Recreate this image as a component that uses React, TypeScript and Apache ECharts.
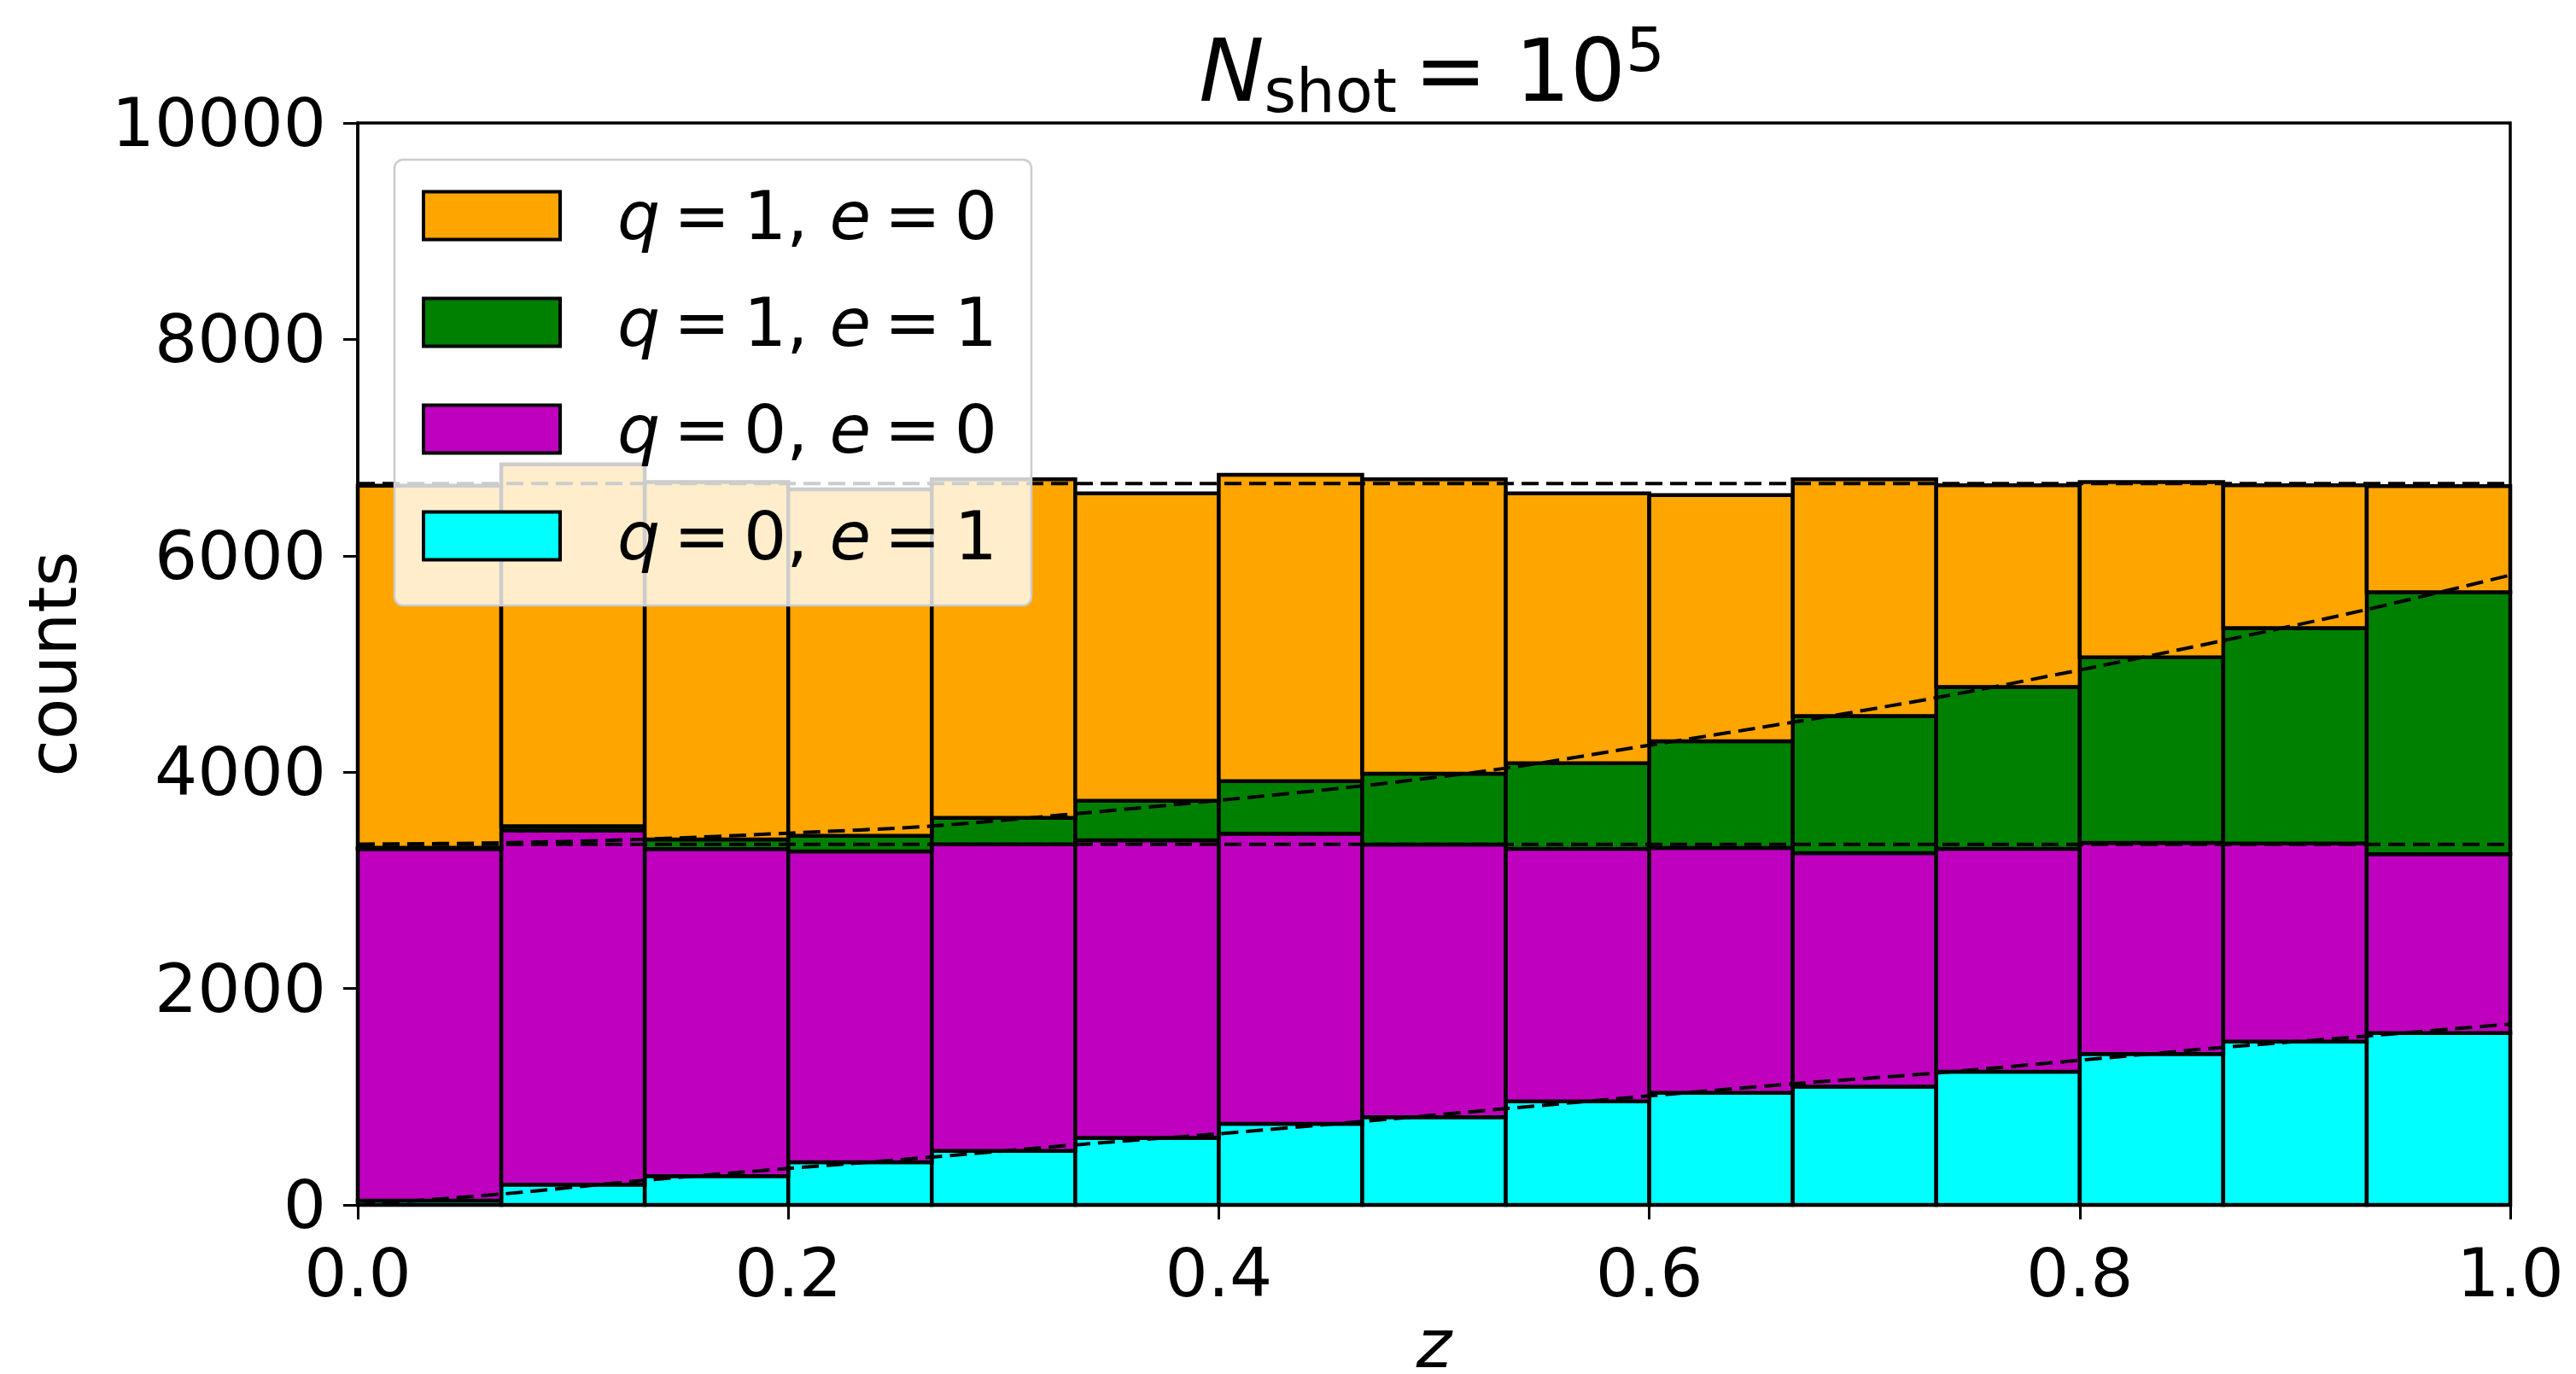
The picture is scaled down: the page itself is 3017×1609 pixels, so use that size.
import React, { useEffect, useRef } from "react";
import * as echarts from "echarts";

// ---- data ----
const binCount = 15;
const binEdges = Array.from({ length: binCount + 1 }, (_, i) => i / binCount);

// stacked from the bottom: q=0,e=1 (cyan), q=0,e=0 (magenta), q=1,e=1 (green), q=1,e=0 (orange)
const q0e1Counts = [40, 188, 266, 395, 500, 619, 750, 811, 956, 1035, 1093, 1232, 1396, 1509, 1588];
const q0e0Counts = [3250, 3272, 3024, 2873, 2832, 2751, 2681, 2520, 2335, 2264, 2159, 2059, 1951, 1831, 1653];
const q1e1Counts = [12, 40, 88, 144, 246, 366, 486, 655, 791, 986, 1266, 1496, 1715, 1991, 2422];
const q1e0Counts = [3346, 3345, 3304, 3203, 3128, 2840, 2832, 2720, 2494, 2276, 2188, 1865, 1620, 1321, 980];

// expected (dashed) curves, sampled at the bin edges
const q0e1Expected = [0, 100, 228, 337, 442, 555, 658, 771, 890, 1008, 1119, 1219, 1337, 1456, 1561, 1672];
const q1e1TopExpected = [3333, 3347, 3380, 3436, 3502, 3615, 3739, 3873, 4036, 4249, 4461, 4688, 4944, 5216, 5503, 5821];
const q0Expected = 3333;
const totalExpected = 6667;

const xTicks = [0, 0.2, 0.4, 0.6, 0.8, 1.0];
const yTicks = [0, 2000, 4000, 6000, 8000, 10000];

const seriesDefs = [
  { name: "q = 0, e = 1", counts: q0e1Counts, color: "#00FFFF" },
  { name: "q = 0, e = 0", counts: q0e0Counts, color: "#BF00BF" },
  { name: "q = 1, e = 1", counts: q1e1Counts, color: "#008000" },
  { name: "q = 1, e = 0", counts: q1e0Counts, color: "#FFA500" },
];
const legendOrder = ["q = 1, e = 0", "q = 1, e = 1", "q = 0, e = 0", "q = 0, e = 1"];

const FONT = "DejaVu Sans";
const FS = 79;
const THIN = "\u2009";

export default function App() {
  const ref = useRef<HTMLDivElement>(null);
  useEffect(() => {
    if (!ref.current) return;
    const chart = echarts.init(ref.current, undefined, { renderer: "svg" });

    const bottoms = new Array(binCount).fill(0);
    const barSeries = seriesDefs.map((def) => {
      const data = def.counts.map((c, i) => {
        const item = [binEdges[i], binEdges[i + 1], bottoms[i], bottoms[i] + c];
        bottoms[i] += c;
        return item;
      });
      return {
        type: "custom",
        name: def.name,
        itemStyle: { color: def.color, borderColor: "#000", borderWidth: 4 },
        encode: { x: [0, 1], y: [2, 3] },
        data,
        z: 2,
        renderItem: (params: any, api: any) => {
          const p0 = api.coord([api.value(0), api.value(3)]);
          const p1 = api.coord([api.value(1), api.value(2)]);
          return {
            type: "rect",
            shape: { x: p0[0], y: p0[1], width: p1[0] - p0[0], height: p1[1] - p0[1] },
            style: { fill: def.color, stroke: "#000", lineWidth: 4.5 },
          };
        },
      };
    });

    const dashStyle = { color: "#000", width: 4, type: [20, 9] as any };
    const lineSeries = [
      { data: binEdges.map((z, i) => [z, q0e1Expected[i]]), smooth: 0.3 },
      { data: binEdges.map((z, i) => [z, q1e1TopExpected[i]]), smooth: 0.3 },
      { data: [[0, q0Expected], [1, q0Expected]], smooth: false },
      { data: [[0, totalExpected], [1, totalExpected]], smooth: false },
    ].map((s) => ({
      type: "line",
      data: s.data,
      smooth: s.smooth,
      showSymbol: false,
      symbol: "none",
      lineStyle: dashStyle,
      z: 5,
      silent: true,
    }));

    chart.setOption({
      animation: false,
      backgroundColor: "#fff",
      textStyle: { fontFamily: FONT },
      grid: {
        left: 419,
        top: 144,
        right: 77,
        bottom: 198,
        outerBoundsMode: "none",
        containLabel: false,
        show: true,
        borderColor: "#000",
        borderWidth: 3.5,
        backgroundColor: "transparent",
      },
      xAxis: {
        type: "value",
        min: 0,
        max: 1,
        interval: 0.2,
        name: "z",
        nameLocation: "middle",
        nameGap: 117,
        nameTextStyle: { fontSize: FS, lineHeight: 60, fontStyle: "italic", fontFamily: FONT, color: "#000" },
        axisLine: { show: true, lineStyle: { color: "#000", width: 3.5 } },
        axisTick: { show: true, length: 17, lineStyle: { color: "#000", width: 3 } },
        axisLabel: {
          fontSize: FS,
          fontFamily: FONT,
          color: "#000",
          margin: 40,
          formatter: (v: number) => (xTicks.some((t) => Math.abs(t - v) < 1e-9) ? v.toFixed(1) : ""),
        },
        splitLine: { show: false },
      },
      yAxis: {
        type: "value",
        min: 0,
        max: 10000,
        interval: 2000,
        name: "counts",
        nameLocation: "middle",
        nameGap: 318,
        nameTextStyle: { fontSize: FS, fontFamily: FONT, color: "#000" },
        axisLine: { show: true, lineStyle: { color: "#000", width: 3.5 } },
        axisTick: { show: true, length: 17, lineStyle: { color: "#000", width: 3 } },
        axisLabel: {
          fontSize: FS,
          fontFamily: FONT,
          color: "#000",
          margin: 37,
          formatter: (v: number) => (yTicks.includes(v) ? String(v) : ""),
        },
        splitLine: { show: false },
      },
      legend: {
        data: legendOrder,
        orient: "vertical",
        left: 462,
        top: 187,
        icon: "rect",
        itemWidth: 160,
        itemHeight: 56,
        itemGap: 46,
        padding: [26, 40, 42, 32],
        backgroundColor: "rgba(255,255,255,0.8)",
        borderColor: "#cccccc",
        borderWidth: 2.5,
        borderRadius: 10,
        itemStyle: { borderColor: "#000", borderWidth: 4 },
        selectedMode: false,
        formatter: (name: string) =>
          name.replace(/ = /g, THIN + "=" + THIN).replace(/([qe])/g, "{i|$1}"),
        textStyle: {
          fontSize: FS,
          fontFamily: FONT,
          color: "#000",
          padding: [0, 0, 0, 62],
          rich: {
            i: { fontSize: FS, fontFamily: FONT, fontStyle: "italic", color: "#000" },
          },
        },
        z: 10,
      },
      graphic: [
        {
          type: "text",
          x: 1677,
          y: 82,
          z: 100,
          style: {
            text: "{n|N}{s|shot}{e|" + THIN + "= 10}{p|5}",
            align: "center",
            verticalAlign: "middle",
            fill: "#000",
            rich: {
              n: { fontSize: 102, fontFamily: FONT, fontStyle: "italic", lineHeight: 120, verticalAlign: "middle" },
              s: { fontSize: 72, fontFamily: FONT, lineHeight: 70, verticalAlign: "bottom" },
              e: { fontSize: 102, fontFamily: FONT, lineHeight: 120, verticalAlign: "middle" },
              p: { fontSize: 72, fontFamily: FONT, lineHeight: 70, verticalAlign: "top" },
            },
          },
        },
      ],
      series: [...barSeries, ...lineSeries],
    });

    return () => chart.dispose();
  }, []);

  return (
    <div
      ref={ref}
      style={{ position: "fixed", left: 0, top: 0, width: 3017, height: 1609, background: "#fff" }}
    />
  );
}
